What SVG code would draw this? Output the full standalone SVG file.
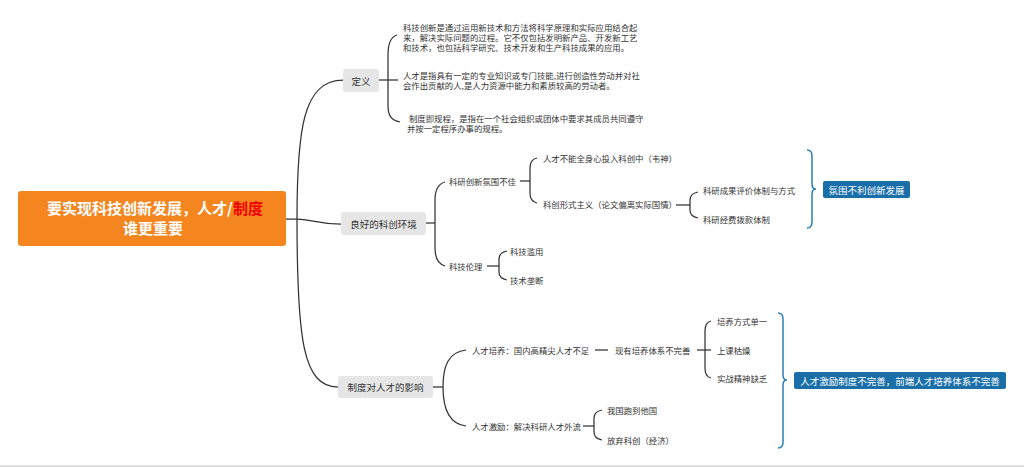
<svg xmlns="http://www.w3.org/2000/svg" width="1024" height="467" viewBox="0 0 1024 467">
<style>
.t{font-family:"Noto Sans CJK SC","Liberation Sans",sans-serif;font-size:8.4px;fill:#333;dominant-baseline:central}
.n{font-family:"Noto Sans CJK SC","Liberation Sans",sans-serif;font-size:9.5px;fill:#333;dominant-baseline:central;text-anchor:middle}
.w{font-family:"Noto Sans CJK SC","Liberation Sans",sans-serif;font-size:9.5px;fill:#fff;dominant-baseline:central;text-anchor:middle}
.r{font-family:"Noto Sans CJK SC","Liberation Sans",sans-serif;font-size:15px;font-weight:bold;fill:#fff;text-anchor:middle}
.box{fill:#E6E6E6}
.blue{fill:#1A6FA9}
.ln{fill:none;stroke:#333;stroke-width:1.25}
.br{fill:none;stroke:#2D7DB5;stroke-width:1.5}
</style>
<rect width="1024" height="467" fill="#fff"/>
<line x1="0" y1="466" x2="1024" y2="466" stroke="#E0E0E0" stroke-width="2"/>
<g id="connectors">
<path class="ln" d="M286,219 L297,219 C310,219 316,224 341,224"/>
<path class="ln" d="M297,219 C297,130 303,80 343,80"/>
<path class="ln" d="M297,219 C297,340 303,387 338,387"/>
<path class="ln" d="M379,80 L398,80"/>
<path class="ln" d="M397,35 C390,37 388,44 388,55 L388,105 C388,116 391,120 400,122"/>
<path class="ln" d="M426,223 L435,223"/>
<path class="ln" d="M445,182 C438,184 435,190 435,200 L435,248 C435,258 438,264 445,266"/>
<path class="ln" d="M520,181 L530,181"/>
<path class="ln" d="M537,158 C532,159 530,163 530,168 L530,193 C530,198 532,202 537,203"/>
<path class="ln" d="M676,205 L690,205"/>
<path class="ln" d="M698,192 C693,193 690,196 690,200 L690,210 C690,214 693,217 698,218"/>
<path class="ln" d="M487,266 L499,266"/>
<path class="ln" d="M507,251 C502,252 499,255 499,259 L499,272 C499,276 502,279 507,280"/>
<path class="ln" d="M433,387 L443,387"/>
<path class="ln" d="M466,350 C449,352 443,365 443,387 C443,409 449,424 466,426"/>
<path class="ln" d="M595,350 L608,350"/>
<path class="ln" d="M697,350 L711,350"/>
<path class="ln" d="M711,321 C706,322 705,326 705,331 L705,368 C705,373 706,377 711,378"/>
<path class="ln" d="M583,426 L594,426"/>
<path class="ln" d="M602,410 C597,411 594,414 594,418 L594,432 C594,436 597,439 602,440"/>
<path class="br" d="M807,150 C811,150 812,152 812,156 L812,184 C812,187 813,189 816,189 C813,189 812,191 812,194 L812,222 C812,226 811,228 807,228"/>
<path class="br" d="M778,313 C782,313 783,315 783,319 L783,375 C783,378 784,380 787,380 C784,380 783,382 783,385 L783,442 C783,446 782,448 778,448"/>
</g>
<g id="root">
<rect x="18" y="191" width="268" height="55" rx="3" fill="#F5861F"/>
<text class="r" x="155" y="214">要实现科技创新发展，人才/<tspan fill="#F00000">制度</tspan></text>
<text class="r" x="153" y="233.5">谁更重要</text>
</g>
<g id="n-def">
<rect class="box" x="343" y="69" width="36" height="23" rx="3"/>
<text class="n" x="361" y="80.5">定义</text>
</g>
<g id="n-def1">
<text class="t" x="403" y="26.5">科技创新是通过运用新技术和方法将科学原理和实际应用结合起</text>
<text class="t" x="403" y="36.5">来，解决实际问题的过程。它不仅包括发明新产品、开发新工艺</text>
<text class="t" x="403" y="46.5">和技术，也包括科学研究、技术开发和生产科技成果的应用。</text>
</g>
<g id="n-def2">
<text class="t" x="403" y="74.5">人才是指具有一定的专业知识或专门技能,进行创造性劳动并对社</text>
<text class="t" x="403" y="84.5">会作出贡献的人,是人力资源中能力和素质较高的劳动者。</text>
</g>
<g id="n-def3">
<text class="t" x="409" y="118">制度即规程，是指在一个社会组织或团体中要求其成员共同遵守</text>
<text class="t" x="407" y="128">并按一定程序办事的规程。</text>
</g>
<g id="n-env">
<rect class="box" x="341" y="212" width="85" height="23" rx="3"/>
<text class="n" x="383.5" y="223.5">良好的科创环境</text>
</g>
<g id="n-atm"><text class="t" x="449" y="181">科研创新氛围不佳</text></g>
<g id="n-atm1"><text class="t" x="543" y="158">人才不能全身心投入科创中（韦神）</text></g>
<g id="n-atm2"><text class="t" x="543" y="204">科创形式主义（论文偏离实际国情）</text></g>
<g id="n-atm21"><text class="t" x="703" y="190">科研成果评价体制与方式</text></g>
<g id="n-atm22"><text class="t" x="703" y="219">科研经费拨款体制</text></g>
<g id="n-sum1">
<rect class="blue" x="823" y="181" width="87" height="17" rx="2"/>
<text class="w" x="866.5" y="189.5">氛围不利创新发展</text>
</g>
<g id="n-eth"><text class="t" x="449" y="266">科技伦理</text></g>
<g id="n-eth1"><text class="t" x="510" y="251">科技滥用</text></g>
<g id="n-eth2"><text class="t" x="510" y="280">技术垄断</text></g>
<g id="n-sys">
<rect class="box" x="338" y="376" width="95" height="22" rx="3"/>
<text class="n" x="385.5" y="387">制度对人才的影响</text>
</g>
<g id="n-train"><text class="t" x="472" y="350">人才培养：国内高精尖人才不足</text></g>
<g id="n-train1"><text class="t" x="615" y="350">现有培养体系不完善</text></g>
<g id="n-train11"><text class="t" x="717" y="321">培养方式单一</text></g>
<g id="n-train12"><text class="t" x="717" y="350">上课枯燥</text></g>
<g id="n-train13"><text class="t" x="717" y="378">实战精神缺乏</text></g>
<g id="n-inc"><text class="t" x="472" y="426">人才激励：解决科研人才外流</text></g>
<g id="n-inc1"><text class="t" x="607" y="410">我国跑到他国</text></g>
<g id="n-inc2"><text class="t" x="607" y="440">放弃科创（经济）</text></g>
<g id="n-sum2">
<rect class="blue" x="794" y="372" width="212" height="17" rx="2"/>
<text class="w" x="900" y="380.5">人才激励制度不完善，前端人才培养体系不完善</text>
</g>
</svg>
